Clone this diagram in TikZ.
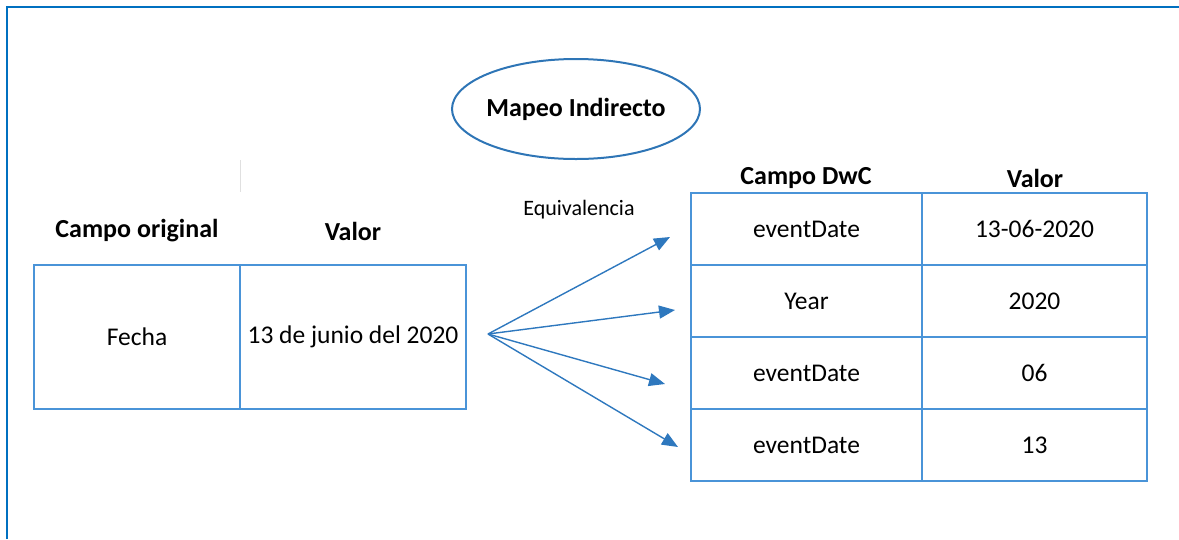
\documentclass[tikz,border=0pt]{standalone}
\usepackage{fontspec}
\setmainfont{Carlito}
\usetikzlibrary{arrows.meta}

\definecolor{framblue}{HTML}{0070C0}
\definecolor{ovalblue}{HTML}{2E75B6}
\definecolor{cellblue}{HTML}{4A94D8}
\definecolor{arrowblue}{HTML}{2E78BE}

\tikzset{
  cell/.style={draw=cellblue, line width=1.8pt, inner sep=0pt, font=\fontsize{25.5}{30}\selectfont},
  head/.style={font=\fontsize{26}{30}\selectfont\bfseries},
  map/.style={-{Triangle[length=16pt,width=13pt]}, draw=arrowblue, line width=1.4pt}
}

\begin{document}
\begin{tikzpicture}[x=1pt,y=-1pt]
\useasboundingbox (0,0) rectangle (1179,539);

\draw [framblue, line width=2.2pt] (7,539) -- (7,7) -- (1179,7);
\draw [black!12, line width=0.8pt] (240,160) -- (240,192);

\node (title) [font=\fontsize{26}{30}\selectfont\bfseries] at (576,109) {Mapeo Indirecto};
\draw [ovalblue, line width=2pt] (title.center) ellipse [x radius=124, y radius=50];

\node [head] (h1) at (137,231) {Campo original};
\node [head] (h2) at (353,231) {Valor};

\node (o1) [cell, minimum width=206pt, minimum height=144pt] at (137,337) {Fecha};
\node (o2) [cell, minimum width=226pt, minimum height=144pt] at (353,337) {13 de junio del 2020};

\node [head] (h3) at (806,178) {Campo DwC};
\node [head] (h4) at (1035,178) {Valor};

\node (d1) [cell, minimum width=231pt, minimum height=72pt] at (806.5,229) {eventDate};
\node (v1) [cell, minimum width=225pt, minimum height=72pt] at (1034.5,229) {13-06-2020};
\node (d2) [cell, minimum width=231pt, minimum height=72pt] at (806.5,301) {Year};
\node (v2) [cell, minimum width=225pt, minimum height=72pt] at (1034.5,301) {2020};
\node (d3) [cell, minimum width=231pt, minimum height=72pt] at (806.5,373) {eventDate};
\node (v3) [cell, minimum width=225pt, minimum height=72pt] at (1034.5,373) {06};
\node (d4) [cell, minimum width=231pt, minimum height=72pt] at (806.5,445) {eventDate};
\node (v4) [cell, minimum width=225pt, minimum height=72pt] at (1034.5,445) {13};

\node (eq) [font=\fontsize{22}{26}\selectfont] at (579,210) {Equivalencia};

\coordinate (src) at (488,334);
\coordinate (t1) at (670,237);
\coordinate (t2) at (675,310);
\coordinate (t3) at (665,384);
\coordinate (t4) at (678,447);

\draw [map] (src) -- (t1);
\draw [map] (src) -- (t2);
\draw [map] (src) -- (t3);
\draw [map] (src) -- (t4);
\end{tikzpicture}
\end{document}
